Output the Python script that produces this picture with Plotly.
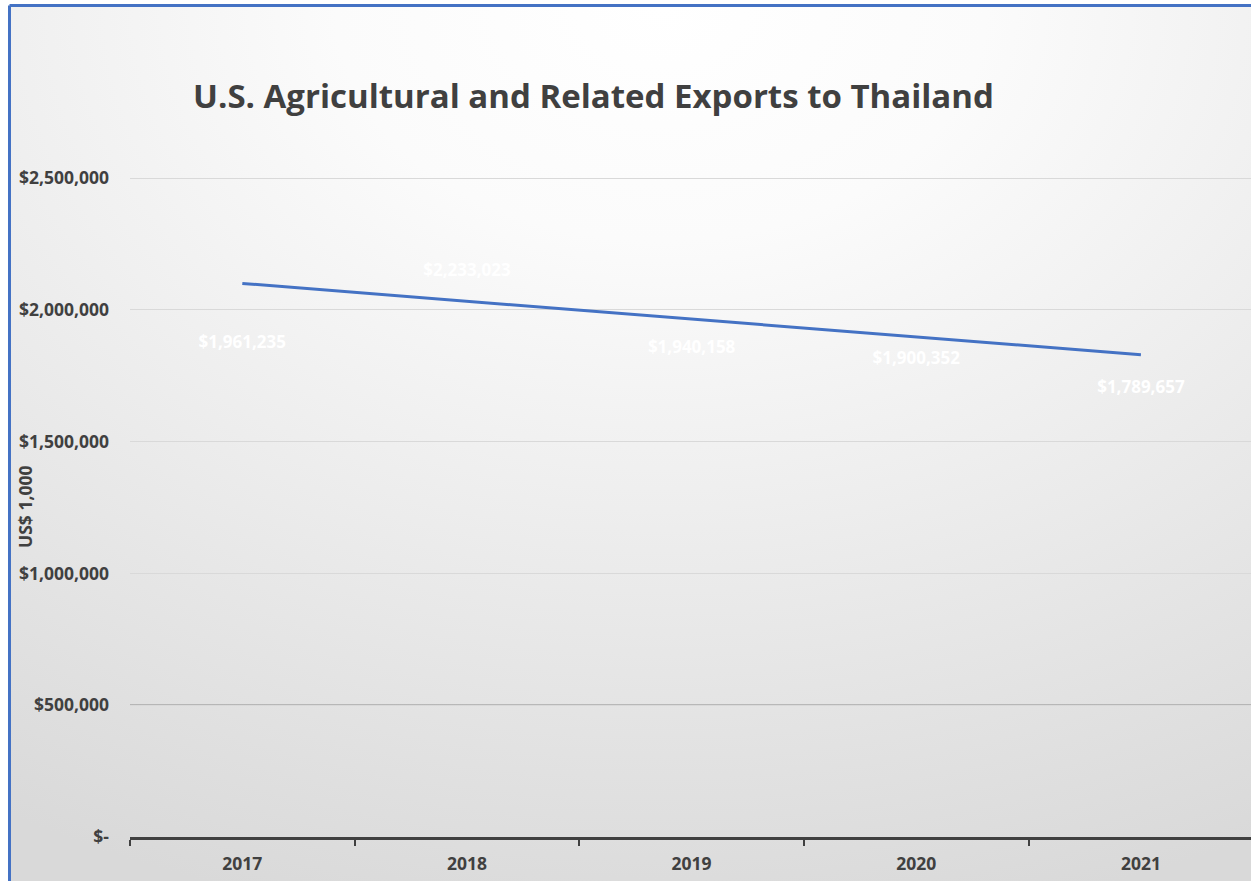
import base64
import numpy as np
import plotly.graph_objects as go

# ---- data ----
years = ["2017", "2018", "2019", "2020", "2021"]
exports = [1961235, 2233023, 1940158, 1900352, 1789657]
y_tickvals = [0, 500000, 1000000, 1500000, 2000000, 2500000]
y_ticktext = ["$-", "$500,000", "$1,000,000", "$1,500,000", "$2,000,000", "$2,500,000"]
title_text = "U.S. Agricultural and Related Exports to Thailand"
y_title = "US$ 1,000"

# linear trendline from the data
idx = np.arange(len(exports))
slope, intercept = np.polyfit(idx, exports, 1)
trend = list(slope * idx + intercept)
labels = ["${:,}".format(v) for v in exports]

W, H = 1251, 881
ML, MR, MT, MB = 130, 0, 160, 44
PW, PH = W - ML - MR, H - MT - MB
YMAX = 2500000 * (837 - 160) / 659.0

def px(x):
    return (x - ML) / PW

def py(y):
    return 1 - (y - MT) / PH

TXT = "#404040"
FONT = "Open Sans"

svg = ('<svg xmlns="http://www.w3.org/2000/svg" width="100" height="100" viewBox="0 0 100 100" '
       'preserveAspectRatio="none"><defs><radialGradient id="g" cx="0.5" cy="0" r="1" fx="0.5" fy="0">'
       '<stop offset="0" stop-color="#ffffff"/><stop offset="0.25" stop-color="#fbfbfb"/>'
       '<stop offset="1" stop-color="#d9d9d9"/></radialGradient></defs>'
       '<rect x="0" y="0" width="100" height="100" fill="url(#g)"/></svg>')
svg_uri = "data:image/svg+xml;base64," + base64.b64encode(svg.encode()).decode()

fig = go.Figure()

fig.add_trace(go.Scatter(
    x=years, y=trend, mode="lines",
    line=dict(color="#4472C4", width=3),
    hoverinfo="skip", showlegend=False,
))
fig.add_trace(go.Scatter(
    x=years, y=exports, mode="markers+text",
    marker=dict(size=22, opacity=0),
    text=labels, textposition="bottom center",
    textfont=dict(family=FONT, size=17, color="#ffffff", weight="bold"),
    hoverinfo="skip", showlegend=False,
))

fig.update_layout(
    width=W, height=H,
    margin=dict(l=ML, r=MR, t=MT, b=MB),
    paper_bgcolor="#ffffff",
    plot_bgcolor="rgba(0,0,0,0)",
    showlegend=False,
    title=dict(text="<b>" + title_text + "</b>", x=593.5 / W, xref="container",
               y=1 - 96 / H, yref="container", xanchor="center", yanchor="middle",
               font=dict(family=FONT, size=33, color=TXT)),
    xaxis=dict(type="category", categoryorder="array", categoryarray=years,
               range=[-0.5, 4.49], showgrid=False, showline=True, linecolor=TXT, linewidth=3,
               ticks="outside", tickson="boundaries", ticklen=6, tickwidth=2, tickcolor=TXT,
               tickfont=dict(family=FONT, size=17.5, color=TXT, weight="bold"),
               ticklabelstandoff=9, zeroline=False),
    yaxis=dict(range=[0, YMAX], tickvals=y_tickvals, ticktext=y_ticktext,
               showgrid=True, gridcolor="#d9d9d9", gridwidth=1, zeroline=False, showline=False,
               ticks="", ticklabelstandoff=20,
               tickfont=dict(family=FONT, size=17.5, color=TXT, weight="bold")),
    images=[dict(source=svg_uri, xref="paper", yref="paper", x=px(11), y=py(7),
                 sizex=px(W + 60) - px(11), sizey=py(7) - py(H + 60), sizing="stretch",
                 xanchor="left", yanchor="top", layer="below")],
    shapes=[
        dict(type="line", xref="paper", yref="y", x0=0, x1=1, y0=y_tickvals[1], y1=y_tickvals[1],
             line=dict(color="#8c8c8c", width=1.5), layer="below"),
        dict(type="line", xref="paper", yref="paper", x0=px(9.5), y0=py(5.5), x1=px(W + 40), y1=py(5.5),
             line=dict(color="#4472C4", width=3), layer="above"),
        dict(type="line", xref="paper", yref="paper", x0=px(9.5), y0=py(5.5), x1=px(9.5), y1=py(H + 40),
             line=dict(color="#4472C4", width=3), layer="above"),
    ],
    annotations=[dict(text="<b>" + y_title + "</b>", xref="paper", yref="paper",
                      x=px(25), y=py(507), textangle=-90, showarrow=False,
                      xanchor="center", yanchor="middle",
                      font=dict(family=FONT, size=17.5, color=TXT))],
)

fig.write_html("out.html", config={"displayModeBar": False},
               post_script=("document.body.style.margin='0px';"
                            "document.body.style.overflow='hidden';"
                            "document.documentElement.style.overflow='hidden';"))
